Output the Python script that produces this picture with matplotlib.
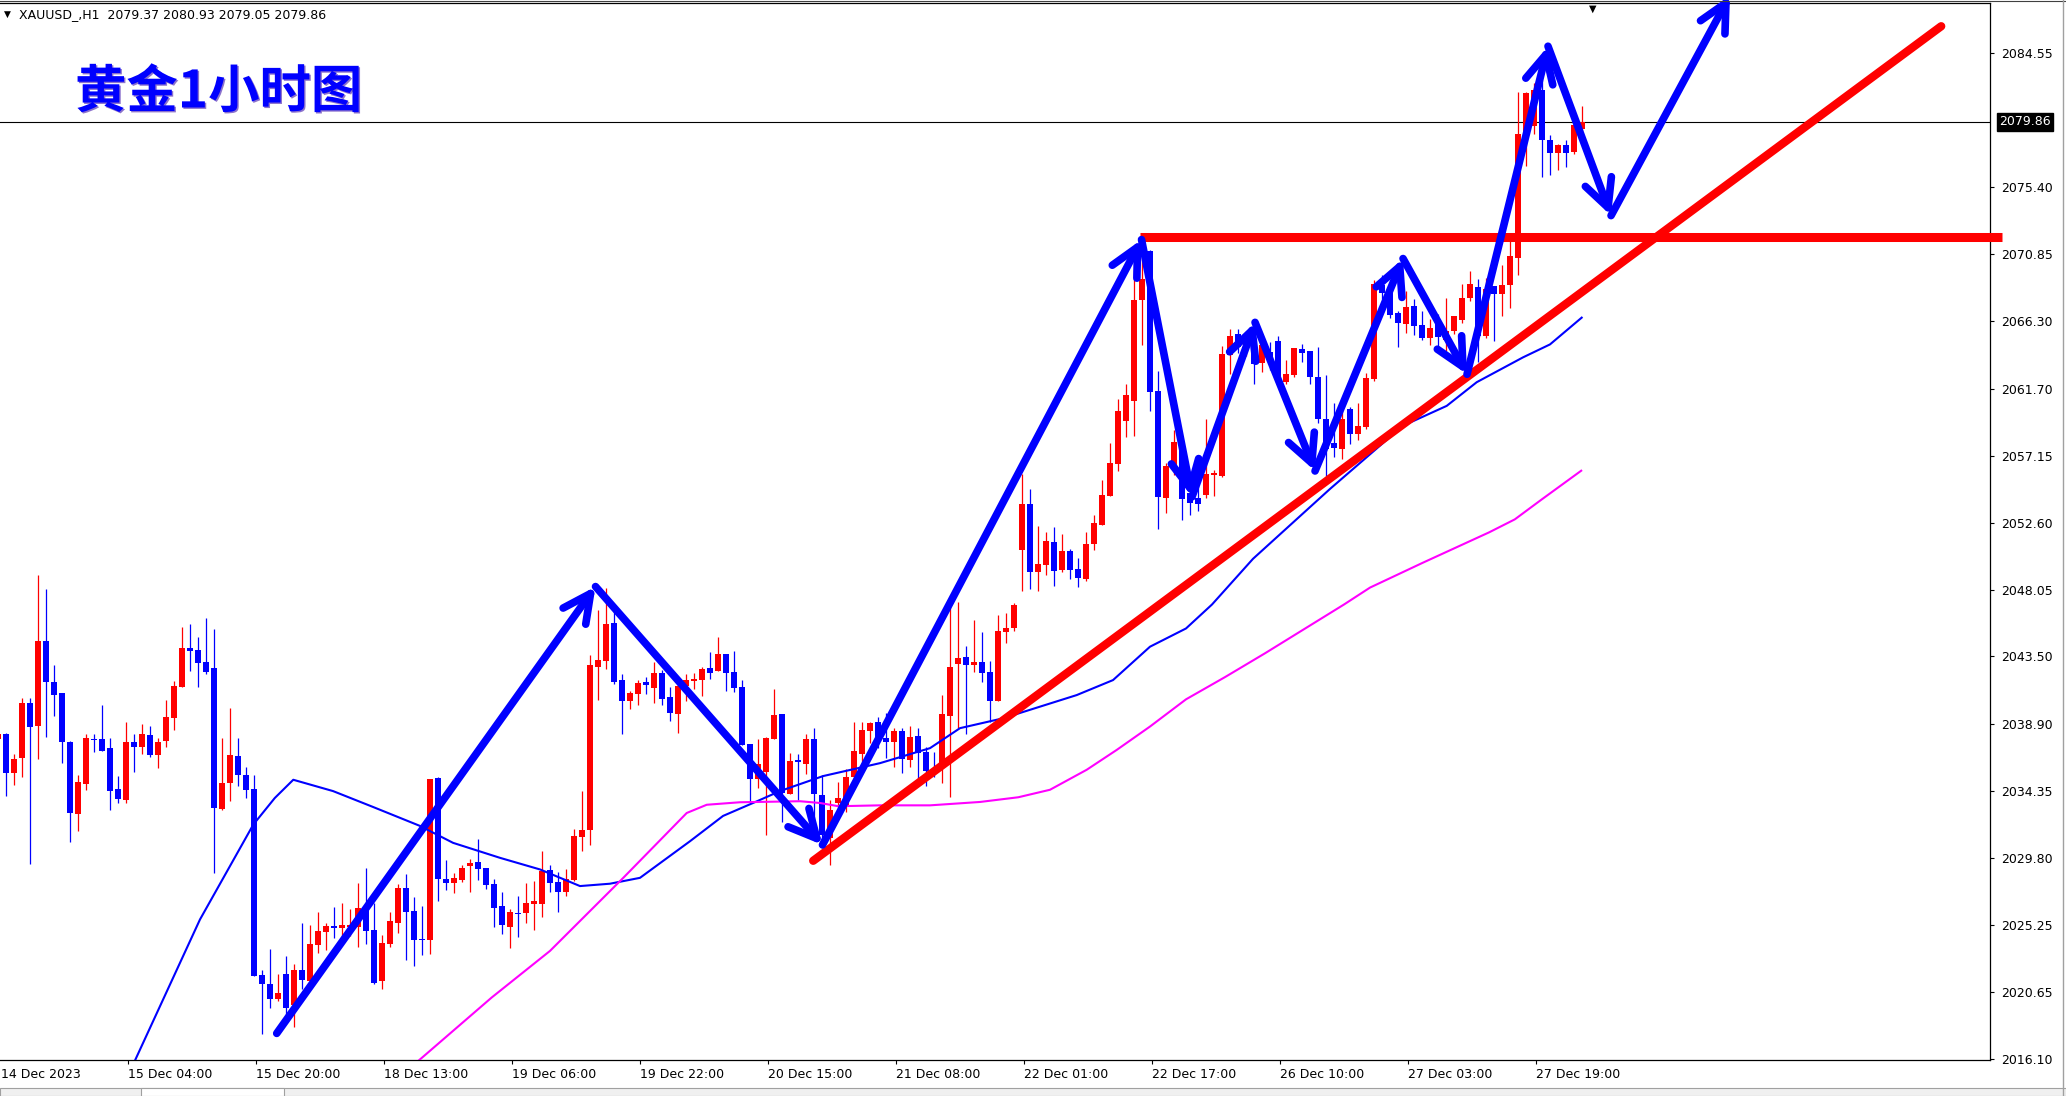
import numpy as np
import matplotlib
matplotlib.use('Agg')
import matplotlib.pyplot as plt
from matplotlib.lines import Line2D
from matplotlib.patches import Rectangle
import matplotlib.patheffects as pe

plt.rcParams['font.family'] = ['DejaVu Sans']

# ---------------- data ----------------
bar_index = list(range(-1, 198))   # hourly bars, 0 = 14 Dec 13:00

opens = [
    2037.90, 2038.23, 2035.56, 2036.58, 2040.31, 2038.77, 2044.52, 2041.74, 2040.99, 2037.69,
    2032.78, 2034.82, 2037.87, 2037.87, 2037.26, 2034.48, 2033.73, 2037.67, 2037.33, 2038.14,
    2036.78, 2037.73, 2039.30, 2041.40, 2044.04, 2043.91, 2043.09, 2042.68, 2033.12, 2034.89,
    2036.72, 2035.43, 2034.48, 2021.80, 2021.25, 2020.17, 2021.93, 2019.76, 2022.14, 2021.39,
    2023.90, 2024.78, 2025.19, 2025.05, 2025.10, 2025.12, 2026.27, 2024.92, 2021.39, 2023.97,
    2025.39, 2027.77, 2026.20, 2024.31, 2024.24, 2035.23, 2028.37, 2028.10, 2028.31, 2029.26,
    2029.53, 2029.12, 2028.04, 2026.54, 2025.12, 2026.07, 2026.07, 2026.68, 2026.68, 2028.99,
    2028.17, 2027.50, 2028.31, 2031.22, 2031.70, 2042.75, 2043.16, 2045.74, 2041.87, 2040.45,
    2040.92, 2041.74, 2041.33, 2042.35, 2040.72, 2039.57, 2041.46, 2041.80, 2041.87, 2042.68,
    2042.48, 2043.63, 2042.41, 2041.40, 2037.53, 2035.16, 2035.63, 2037.87, 2039.57, 2034.14,
    2036.44, 2036.17, 2037.87, 2034.07, 2031.16, 2033.53, 2033.42, 2035.29, 2036.85, 2038.41,
    2039.02, 2037.94, 2037.67, 2038.41, 2036.44, 2038.07, 2036.99, 2035.70, 2035.97, 2039.43,
    2042.96, 2043.43, 2042.89, 2043.09, 2042.41, 2040.45, 2045.13, 2045.40, 2050.76, 2053.88,
    2049.26, 2049.74, 2051.30, 2049.40, 2050.69, 2049.47, 2048.79, 2051.16, 2052.45, 2054.42,
    2056.59, 2059.50, 2060.86, 2067.71, 2071.06, 2061.54, 2054.28, 2056.45, 2058.00, 2054.60,
    2054.28, 2054.49, 2055.84, 2055.77, 2063.98, 2065.40, 2064.50, 2065.00, 2063.44, 2064.20,
    2064.93, 2062.13, 2062.62, 2064.39, 2064.25, 2062.49, 2059.64, 2058.01, 2057.60, 2060.32,
    2058.62, 2059.10, 2062.35, 2068.73, 2068.19, 2066.83, 2066.08, 2067.30, 2066.01, 2065.13,
    2066.42, 2065.00, 2065.61, 2066.35, 2067.85, 2068.60, 2065.29, 2068.68, 2068.12, 2068.73,
    2070.60, 2078.85, 2079.60, 2082.02, 2078.63, 2077.72, 2078.29, 2077.84, 2079.37]

highs = [
    2038.60, 2038.30, 2036.85, 2040.65, 2040.65, 2049.06, 2048.11, 2042.89, 2040.99, 2037.76,
    2035.43, 2038.21, 2038.21, 2040.18, 2037.94, 2035.36, 2039.02, 2038.21, 2038.89, 2038.75,
    2037.94, 2040.52, 2041.80, 2045.47, 2045.67, 2044.79, 2046.14, 2045.33, 2037.94, 2039.97,
    2037.94, 2035.97, 2035.43, 2022.14, 2023.63, 2021.93, 2023.15, 2022.61, 2025.39, 2025.26,
    2026.14, 2025.39, 2026.48, 2026.75, 2026.34, 2028.11, 2029.12, 2026.75, 2024.58, 2026.14,
    2028.04, 2028.71, 2027.15, 2026.54, 2035.16, 2035.29, 2029.66, 2028.78, 2029.32, 2029.73,
    2031.09, 2029.12, 2028.37, 2027.50, 2026.34, 2027.22, 2028.10, 2028.24, 2030.27, 2029.32,
    2028.85, 2029.05, 2031.77, 2034.34, 2043.57, 2046.69, 2048.18, 2046.75, 2042.28, 2041.13,
    2041.87, 2042.07, 2043.09, 2042.55, 2041.40, 2041.74, 2042.28, 2042.35, 2042.75, 2043.77,
    2044.79, 2043.63, 2043.84, 2041.87, 2037.53, 2037.87, 2038.00, 2041.26, 2039.57, 2036.92,
    2036.85, 2038.21, 2038.62, 2035.43, 2033.73, 2034.95, 2035.83, 2039.02, 2039.02, 2039.02,
    2039.41, 2039.63, 2038.62, 2038.62, 2038.75, 2038.62, 2037.33, 2036.99, 2040.85, 2047.23,
    2047.23, 2044.18, 2046.01, 2045.13, 2043.16, 2046.35, 2046.42, 2047.16, 2055.91, 2054.89,
    2052.38, 2051.98, 2052.32, 2051.84, 2050.82, 2050.21, 2051.98, 2053.13, 2055.50, 2058.01,
    2061.00, 2062.00, 2069.81, 2071.17, 2071.17, 2062.89, 2056.66, 2058.89, 2058.30, 2055.10,
    2055.57, 2059.64, 2056.18, 2064.59, 2065.74, 2065.74, 2065.60, 2065.50, 2065.40, 2064.90,
    2065.27, 2063.64, 2064.45, 2064.73, 2064.25, 2064.52, 2062.62, 2060.73, 2060.32, 2060.45,
    2060.73, 2062.76, 2069.07, 2069.47, 2068.50, 2067.00, 2068.32, 2067.78, 2067.00, 2066.42,
    2066.80, 2067.91, 2066.62, 2068.80, 2069.68, 2069.20, 2069.25, 2068.68, 2070.15, 2071.85,
    2081.91, 2081.91, 2082.50, 2082.70, 2078.97, 2078.36, 2078.63, 2079.65, 2080.93]

lows = [
    2037.50, 2034.03, 2034.75, 2035.29, 2029.39, 2036.51, 2038.00, 2039.43, 2036.24, 2030.89,
    2031.63, 2034.41, 2036.99, 2037.06, 2033.05, 2033.53, 2033.53, 2035.63, 2036.85, 2036.65,
    2035.90, 2037.33, 2038.48, 2041.40, 2042.48, 2041.40, 2042.28, 2028.78, 2033.05, 2033.67,
    2034.68, 2033.87, 2021.73, 2017.82, 2019.56, 2020.03, 2018.95, 2018.27, 2020.85, 2021.32,
    2023.36, 2023.56, 2024.37, 2024.37, 2024.50, 2023.76, 2023.97, 2021.19, 2020.85, 2023.76,
    2024.71, 2022.88, 2022.41, 2023.22, 2023.29, 2026.88, 2027.63, 2027.43, 2028.17, 2027.50,
    2028.31, 2027.70, 2025.12, 2024.65, 2023.70, 2024.44, 2025.39, 2024.92, 2025.80, 2027.50,
    2026.14, 2027.22, 2028.24, 2030.27, 2030.68, 2040.52, 2042.62, 2041.60, 2038.21, 2039.91,
    2040.18, 2040.92, 2040.31, 2040.18, 2039.09, 2038.28, 2040.45, 2041.26, 2040.79, 2041.94,
    2042.48, 2041.13, 2041.06, 2037.46, 2033.60, 2034.55, 2031.36, 2037.87, 2032.24, 2034.14,
    2033.76, 2035.50, 2032.29, 2030.50, 2029.32, 2032.80, 2032.90, 2034.60, 2036.30, 2037.60,
    2037.30, 2036.58, 2035.97, 2035.56, 2036.00, 2034.68, 2034.68, 2035.30, 2034.89, 2033.94,
    2038.62, 2038.21, 2042.41, 2041.74, 2039.02, 2040.45, 2044.38, 2045.26, 2047.97, 2048.11,
    2047.97, 2049.06, 2048.31, 2049.26, 2048.79, 2048.25, 2048.65, 2050.76, 2052.45, 2054.42,
    2056.11, 2058.40, 2058.49, 2064.66, 2060.18, 2052.18, 2053.26, 2055.84, 2052.79, 2053.10,
    2053.40, 2054.28, 2054.42, 2055.71, 2062.69, 2064.16, 2063.90, 2062.01, 2062.83, 2063.00,
    2062.15, 2062.00, 2062.50, 2063.51, 2062.01, 2059.37, 2055.80, 2057.06, 2056.93, 2057.94,
    2058.22, 2059.00, 2062.22, 2067.78, 2066.50, 2064.52, 2065.47, 2065.34, 2065.00, 2064.66,
    2064.40, 2064.30, 2065.40, 2066.20, 2067.70, 2063.50, 2065.18, 2064.95, 2066.65, 2067.21,
    2069.47, 2076.87, 2079.00, 2076.14, 2076.26, 2076.55, 2076.82, 2077.68, 2079.05]

closes = [
    2038.20, 2035.56, 2036.51, 2040.31, 2038.68, 2044.52, 2041.76, 2040.88, 2037.69, 2032.85,
    2034.95, 2037.94, 2037.80, 2037.06, 2034.34, 2033.80, 2037.67, 2037.33, 2038.21, 2036.78,
    2037.67, 2039.36, 2041.46, 2044.04, 2043.84, 2043.02, 2042.41, 2033.19, 2034.89, 2036.79,
    2035.43, 2034.41, 2021.73, 2021.19, 2020.17, 2020.64, 2019.56, 2022.14, 2021.46, 2023.97,
    2024.85, 2025.19, 2025.05, 2025.26, 2025.26, 2026.41, 2024.85, 2021.32, 2024.03, 2025.53,
    2027.77, 2026.14, 2024.24, 2024.19, 2035.16, 2028.37, 2028.10, 2028.44, 2029.12, 2029.46,
    2029.05, 2027.97, 2026.41, 2025.26, 2026.14, 2026.00, 2026.75, 2026.88, 2028.92, 2028.10,
    2027.50, 2028.37, 2031.29, 2031.70, 2042.89, 2043.23, 2045.67, 2041.74, 2040.45, 2040.99,
    2041.67, 2041.53, 2042.35, 2040.58, 2039.63, 2041.46, 2041.87, 2041.94, 2042.62, 2042.35,
    2043.63, 2042.35, 2041.33, 2037.46, 2035.16, 2036.17, 2037.94, 2039.50, 2034.21, 2036.38,
    2036.31, 2037.87, 2034.14, 2031.38, 2033.05, 2033.87, 2035.29, 2037.06, 2038.48, 2038.95,
    2037.94, 2037.67, 2038.41, 2036.51, 2038.00, 2036.92, 2035.70, 2035.60, 2039.57, 2042.75,
    2043.36, 2042.89, 2043.09, 2042.35, 2040.45, 2045.26, 2045.40, 2047.03, 2053.88, 2049.26,
    2049.81, 2051.37, 2049.33, 2050.69, 2049.40, 2048.86, 2051.16, 2052.59, 2054.49, 2056.66,
    2060.20, 2061.30, 2067.71, 2069.20, 2061.47, 2054.35, 2056.45, 2058.08, 2054.20, 2053.90,
    2053.87, 2055.91, 2055.98, 2064.05, 2065.27, 2064.52, 2065.00, 2063.37, 2064.66, 2063.50,
    2062.15, 2062.69, 2064.45, 2064.12, 2062.49, 2059.64, 2057.60, 2057.67, 2059.64, 2058.62,
    2059.17, 2062.42, 2068.86, 2068.19, 2066.69, 2066.15, 2067.24, 2065.95, 2065.13, 2065.81,
    2065.20, 2065.60, 2066.62, 2067.85, 2068.80, 2065.30, 2068.46, 2068.12, 2068.79, 2070.76,
    2079.04, 2081.79, 2082.00, 2078.63, 2077.72, 2078.29, 2077.72, 2079.65, 2079.86]

# moving averages (bar index, price)
ma_fast_x = [15.6, 24.25, 30.91, 33.6, 35.91, 40.88, 45.88, 51.75, 55.88, 61.75, 66.75, 71.75,
             75.5, 79.25, 85.5, 89.63, 93.84, 96.75, 102.13, 109.25, 115.5, 119.25, 124.63,
             133.84, 138.38, 143.0, 147.5, 150.75, 155.88, 165.5, 174.63, 180.09, 183.84,
             189.63, 193.0, 196.96]
ma_fast_y = [2015.40, 2025.61, 2032.06, 2033.87, 2035.11, 2034.34, 2033.26, 2031.97, 2030.82,
             2029.80, 2029.01, 2027.88, 2028.04, 2028.44, 2030.93, 2032.65, 2033.64, 2034.34,
             2035.36, 2036.24, 2037.26, 2038.62, 2039.29, 2040.87, 2041.89, 2044.16, 2045.40,
             2047.03, 2050.14, 2054.89, 2059.19, 2060.54, 2062.15, 2063.84, 2064.72, 2066.54]
ma_slow_x = [49.9, 60.71, 68.0, 75.5, 77.16, 85.09, 87.59, 91.75, 99.25, 101.75, 104.04, 109.25,
             115.5, 121.75, 126.54, 130.5, 135.09, 138.84, 143.0, 147.5, 152.4, 157.4, 167.25,
             170.5, 177.1, 185.4, 188.6, 191.95, 196.9]
ma_slow_y = [2015.22, 2020.30, 2023.47, 2027.54, 2028.44, 2032.85, 2033.41, 2033.58, 2033.65,
             2033.53, 2033.31, 2033.37, 2033.37, 2033.60, 2033.92, 2034.43, 2035.79, 2037.14,
             2038.73, 2040.58, 2042.10, 2043.72, 2047.03, 2048.18, 2049.87, 2051.94, 2052.82,
             2054.17, 2056.13]

# hand-drawn annotations (bar index, price)
arrow_x = [33.84, 73.69, 102.06, 141.94, 148.25, 156.13, 163.63, 174.63, 182.63, 192.75, 200.63, 215.5]
arrow_y = [2017.86, 2048.25, 2030.68, 2071.85, 2054.35, 2066.22, 2056.11, 2070.56, 2062.69,
           2085.00, 2073.48, 2088.46]
trend_x = [100.9, 241.9]
trend_y = [2029.60, 2086.36]
resist_level = 2072.02
resist_start = 141.75
last_price = 2079.86

ytick_values = [2084.55, 2075.40, 2070.85, 2066.30, 2061.70, 2057.15, 2052.60, 2048.05,
                2043.50, 2038.90, 2034.35, 2029.80, 2025.25, 2020.65, 2016.10]
xtick_index = [15, 31, 47, 63, 79, 95, 111, 127, 143, 159, 175, 191]
xtick_labels = ['15 Dec 04:00', '15 Dec 20:00', '18 Dec 13:00', '19 Dec 06:00',
                '19 Dec 22:00', '20 Dec 15:00', '21 Dec 08:00', '22 Dec 01:00',
                '22 Dec 17:00', '26 Dec 10:00', '27 Dec 03:00', '27 Dec 19:00']
first_label = '14 Dec 2023'
header = 'XAUUSD_,H1  2079.37 2080.93 2079.05 2079.86'
title = '黄金1小时图'

# ---------------- figure ----------------
W, H = 2066, 1096
fig = plt.figure(figsize=(W / 100, H / 100), dpi=100)
fig.patch.set_facecolor('white')
ax = fig.add_axes([0, 1 - 1060 / H, 1990 / W, (1060 - 3.3) / H])

x_left, x_right = -0.75, 248.0
ax.set_xlim(x_left, x_right)
ax.set_ylim(2016.05, 2087.92)

idx = np.array(bar_index, dtype=float)
o = np.array(opens); h = np.array(highs); l = np.array(lows); c = np.array(closes)
up = c >= o
cols = np.where(up, '#ff0000', '#0000ff')

ax.vlines(idx, l, h, colors=cols, lw=0.9, zorder=2)
body_bottom = np.minimum(o, c)
body_h = np.maximum(np.abs(c - o), 0.07)
ax.bar(idx, body_h, bottom=body_bottom, width=0.66, color=cols, linewidth=0, zorder=2)

# current price line
ax.axhline(last_price, color='black', lw=0.8, zorder=1)

# moving averages
ax.plot(ma_fast_x, ma_fast_y, color='#0000ff', lw=1.5, zorder=3)
ax.plot(ma_slow_x, ma_slow_y, color='#ff00ff', lw=1.5, zorder=3)

# red lines
ax.plot([resist_start, x_right + 1.5], [resist_level, resist_level], color='#ff0000', lw=6.5,
        solid_capstyle='butt', zorder=4, clip_on=False)
ax.plot(trend_x, trend_y, color='#ff0000', lw=6, solid_capstyle='round', zorder=4)

# blue arrows
for i in range(len(arrow_x) - 1):
    ax.annotate('', xy=(arrow_x[i + 1], arrow_y[i + 1]), xytext=(arrow_x[i], arrow_y[i]),
                arrowprops=dict(arrowstyle='->,head_length=1.0,head_width=0.5',
                                color='#0000ff', lw=5.5, shrinkA=0, shrinkB=0,
                                mutation_scale=20, capstyle='round', joinstyle='round'),
                annotation_clip=False, zorder=5)

# axes styling
ax.spines['left'].set_visible(False)
for s in ['top', 'right', 'bottom']:
    ax.spines[s].set_color('black')
    ax.spines[s].set_linewidth(0.9)

ax.yaxis.tick_right()
ax.set_yticks(ytick_values)
ax.set_yticklabels(['%.2f' % v for v in ytick_values])
ax.tick_params(axis='y', direction='out', length=3, width=0.8, pad=5, labelsize=9, colors='black')

ax.set_xticks(np.array(xtick_index) + 0.25)
ax.set_xticklabels(xtick_labels, ha='left')
ax.tick_params(axis='x', direction='out', length=3, width=0.8, pad=3, labelsize=9, colors='black')

ax.annotate(first_label, xy=(x_left, 0), xycoords=('data', 'axes fraction'),
            xytext=(1, -6), textcoords='offset points', ha='left', va='top',
            fontsize=9, annotation_clip=False)

# last price box
ax.annotate('%.2f' % last_price, xy=(1, last_price), xycoords=('axes fraction', 'data'),
            xytext=(6.5, 0), textcoords='offset points', ha='left', va='center',
            color='white', fontsize=9, annotation_clip=False,
            bbox=dict(boxstyle='square,pad=0.2', fc='black', ec='black'))

# chart-shift marker
ax.annotate('▼', xy=(198.3, 1), xycoords=('data', 'axes fraction'), ha='center', va='top',
            fontsize=7, color='black', annotation_clip=False)

# header & title
fig.text(4 / W, 1 - 14 / H, '▼', fontsize=6.5, va='center', ha='left', color='black')
fig.text(19 / W, 1 - 15 / H, header, fontsize=9, va='center', ha='left', color='black')
fig.text(75 / W, 1 - 92 / H, title, fontsize=37, fontweight='bold', color='#0000ff',
         family=['Noto Sans CJK SC', 'DejaVu Sans'], va='center', ha='left',
         path_effects=[pe.SimplePatchShadow(offset=(1, -1), shadow_rgbFace='#7050c0', alpha=0.8),
                       pe.Normal()])

# window frame details
fig.add_artist(Line2D([0, 1], [1 - 1.2 / H] * 2, color='#404040', lw=0.8))
fig.add_artist(Line2D([2063 / W] * 2, [0, 1], color='#a0a0a0', lw=1.0))
fig.add_artist(Rectangle((0, 0), 1, 8 / H, transform=fig.transFigure, fc='#f0f0f0',
                         ec='#a0a0a0', lw=0.8))
fig.add_artist(Rectangle((141 / W, 0), 143 / W, 8 / H, transform=fig.transFigure, fc='white',
                         ec='#a0a0a0', lw=0.8))

fig.savefig('out.png', dpi=100, facecolor='white')
